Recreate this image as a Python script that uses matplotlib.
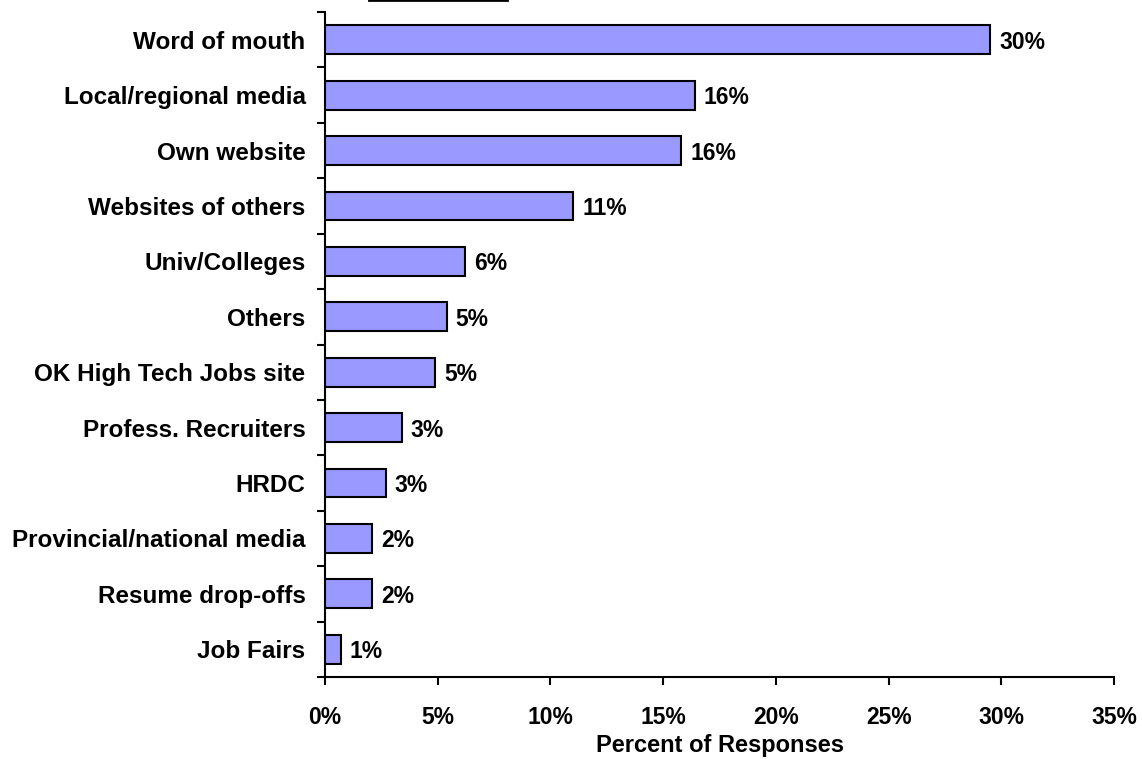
import numpy as np
import matplotlib.pyplot as plt
from matplotlib.lines import Line2D

plt.rcParams['font.family'] = ['Liberation Sans', 'DejaVu Sans']
plt.rcParams['font.weight'] = 'bold'

sources = ['Word of mouth', 'Local/regional media', 'Own website', 'Websites of others',
           'Univ/Colleges', 'Others', 'OK High Tech Jobs site', 'Profess. Recruiters',
           'HRDC', 'Provincial/national media', 'Resume drop-offs', 'Job Fairs']
percent = [29.5, 16.4, 15.8, 11.0, 6.2, 5.4, 4.9, 3.4, 2.7, 2.1, 2.1, 0.7]
xticks = [0, 5, 10, 15, 20, 25, 30, 35]

fs = 16.5

fig = plt.figure(figsize=(11.42, 7.59), dpi=100)
ax = fig.add_axes([0.2846, 0.108, 0.6909, 0.8762])

y = np.arange(len(sources))[::-1]
ax.barh(y, percent, height=0.52, color='#9999FF', edgecolor='black', linewidth=1.5)
for yi, v in zip(y, percent):
    ax.text(v + 0.4, yi, f'{v:.0f}%', va='center_baseline', ha='left', fontsize=fs, fontweight='bold')

ax.set_xlim(0, 35)
ax.set_ylim(-0.5, len(sources) - 0.5)
ax.set_xticks(xticks)
ax.set_xticklabels([f'{t}%' for t in xticks], fontsize=fs, fontweight='bold')
ax.set_yticks(y)
ax.set_yticklabels(sources, fontsize=17.5, fontweight='bold')
ax.tick_params(axis='y', length=0, pad=14)
ax.set_yticks(np.arange(-0.5, len(sources)), minor=True)
ax.tick_params(axis='y', which='minor', length=6, width=1.5, direction='out')
ax.tick_params(axis='x', length=6, width=1.5, direction='out', pad=15)
ax.set_xlabel('Percent of Responses', fontsize=17, fontweight='bold')
ax.xaxis.set_label_coords(0.5, -0.085)

for s in ['top', 'right']:
    ax.spines[s].set_visible(False)
for s in ['left', 'bottom']:
    ax.spines[s].set_linewidth(1.5)

# short rule along the top edge
fig.add_artist(Line2D([369 / 1142, 507 / 1142], [0.9995, 0.9995], color='black', linewidth=2,
                      transform=fig.transFigure))

fig.savefig('out.png', dpi=100)
